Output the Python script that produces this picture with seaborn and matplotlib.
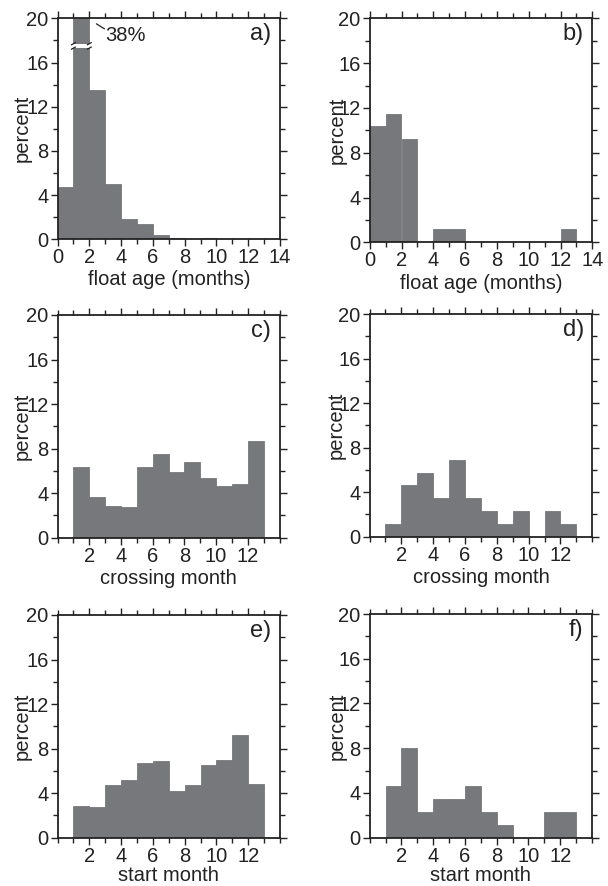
import numpy as np
import pandas as pd
import matplotlib
matplotlib.use("Agg")
import matplotlib.pyplot as plt
import seaborn as sns
from matplotlib.ticker import MultipleLocator

sns.set_theme(style="ticks")
plt.rcParams['font.family'] = ['Liberation Sans', 'DejaVu Sans']

# ---- data (percent per bin) ----
age_edges = list(range(0, 15))            # float age bins, months
month_edges = list(range(1, 14))          # month bins 1..13

age_all = [4.75, 38.0, 13.5, 5.0, 1.85, 1.4, 0.4, 0.15, 0.05, 0.15, 0.06, 0.03, 0.03, 0.0]
age_sub = [10.35, 11.5, 9.2, 0.0, 1.15, 1.15, 0.0, 0.0, 0.0, 0.0, 0.0, 0.0, 1.15, 0.0]

cross_all = [6.35, 3.65, 2.84, 2.75, 6.35, 7.5, 5.9, 6.8, 5.36, 4.64, 4.82, 8.68]
cross_sub = [1.15, 4.6, 5.75, 3.45, 6.9, 3.45, 2.3, 1.15, 2.3, 0.0, 2.3, 1.15]

start_all = [2.84, 2.75, 4.73, 5.18, 6.74, 6.89, 4.19, 4.73, 6.53, 6.98, 9.22, 4.82]
start_sub = [4.6, 8.05, 2.3, 3.45, 3.45, 4.6, 2.3, 1.15, 0.0, 0.0, 2.3, 2.3]

panel_letters = ["a)", "b)", "c)", "d)", "e)", "f)"]
xlabels = ["float age (months)", "float age (months)",
           "crossing month", "crossing month",
           "start month", "start month"]
ylabel = "percent"
peak_label = "38%"

BAR = "#77787c"
INK = "#222222"
W, H = 608, 886
fig = plt.figure(figsize=(W / 100, H / 100), dpi=100)

# axes boxes in pixels: (left, top, right, bottom)
boxes = [(57.5, 18.3, 280.0, 239.3), (369.7, 18.3, 592.3, 242.3),
         (57.5, 315.0, 279.5, 537.7), (369.5, 314.0, 592.3, 536.7),
         (57.5, 615.0, 280.0, 837.7), (369.7, 614.0, 592.0, 837.7)]

series = [(age_all, age_edges), (age_sub, age_edges),
          (cross_all, month_edges), (cross_sub, month_edges),
          (start_all, month_edges), (start_sub, month_edges)]

for i, ((vals, edges), box) in enumerate(zip(series, boxes)):
    l, t, r, b = box
    ax = fig.add_axes([l / W, 1 - b / H, (r - l) / W, (b - t) / H])
    centers = [(edges[k] + edges[k + 1]) / 2 for k in range(len(edges) - 1)]
    df = pd.DataFrame({"x": centers, "w": vals})
    sns.histplot(data=df, x="x", weights="w", bins=list(edges), stat="count",
                 color=BAR, alpha=1.0, edgecolor=BAR, linewidth=0.6, ax=ax)
    ax.set_xlim(0, 14)
    ax.set_ylim(0, 20)
    ax.yaxis.set_major_locator(MultipleLocator(4))
    ax.yaxis.set_minor_locator(MultipleLocator(2))
    ax.xaxis.set_minor_locator(MultipleLocator(1))
    if i < 2:
        ax.set_xticks(range(0, 15, 2))
    else:
        ax.set_xticks(range(2, 13, 2))
    ax.tick_params(which="both", direction="out", top=True, right=True,
                   labelsize=14.5, colors=INK, width=1.0)
    ax.tick_params(which="major", length=5, pad=1.5)
    ax.tick_params(which="minor", length=3.5)
    for s in ax.spines.values():
        s.set_visible(True)
        s.set_linewidth(1.3)
        s.set_color(INK)
    ax.set_xlabel(xlabels[i], fontsize=14.5, color=INK)
    ax.set_ylabel(ylabel, fontsize=14.5, color=INK)
    ax.yaxis.set_label_coords(-0.115 if i % 2 == 0 else -0.105, 0.5)
    ax.xaxis.set_label_coords(0.5, -0.14 if i < 4 else -0.128)
    ax.text(0.962, 0.93, panel_letters[i], transform=ax.transAxes,
            ha="right", va="center", fontsize=17, color=INK)

    if i == 0:
        # axis break on the clipped 38% bar
        ax.fill_between([0.95, 2.05], 17.35, 17.65, color="white", zorder=5, linewidth=0)
        for x0 in (1.0, 2.0):
            for y0 in (17.3, 17.7):
                ax.plot([x0 - 0.15, x0 + 0.15], [y0 - 0.12, y0 + 0.12],
                        color=INK, lw=0.9, zorder=6, solid_capstyle="butt")
        ax.plot([2.45, 2.95], [19.5, 19.05], color=INK, lw=0.9, zorder=6)
        ax.text(3.0, 18.45, peak_label, fontsize=14.5, ha="left", va="center",
                color=INK, zorder=6)

fig.savefig("out.png", dpi=100)
